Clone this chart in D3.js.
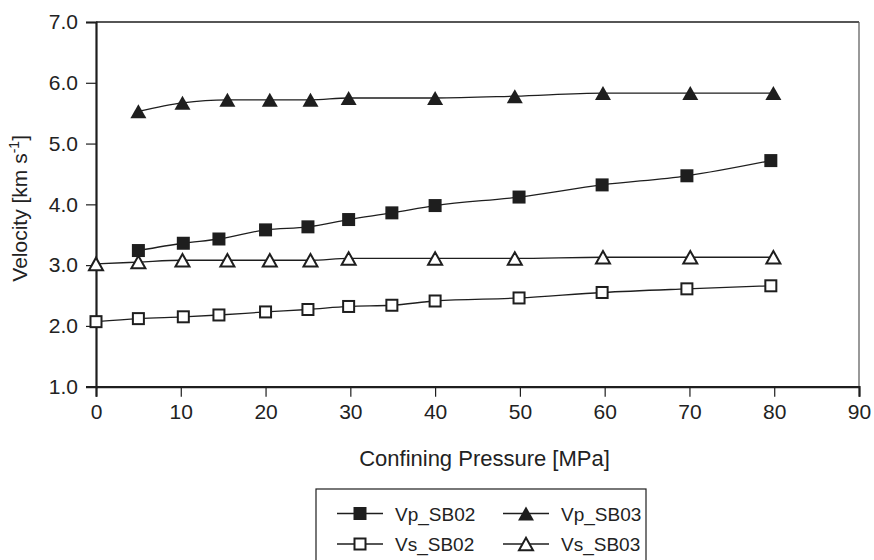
<!DOCTYPE html>
<html><head><meta charset="utf-8">
<script src="https://cdn.jsdelivr.net/npm/d3@7"></script>
<style>
body{margin:0;background:#fff;}
text{font-family:"Liberation Sans",Arial,sans-serif;fill:#222;}
</style></head>
<body><svg id="c" width="874" height="560"></svg>
<script>
// Data
const xTicks = [0,10,20,30,40,50,60,70,80,90];
const yTicks = [1.0,2.0,3.0,4.0,5.0,6.0,7.0];

const vpSB02P = [5,10.3,14.5,20,25,29.8,34.9,40,49.9,59.7,69.7,79.6];
const vpSB02V = [3.24,3.36,3.43,3.58,3.63,3.75,3.86,3.98,4.12,4.32,4.47,4.72];

const vsSB02P = [0,5,10.3,14.5,20,25,29.8,34.9,40,49.9,59.7,69.7,79.6];
const vsSB02V = [2.07,2.12,2.15,2.18,2.23,2.27,2.32,2.34,2.41,2.46,2.55,2.61,2.66];

const vpSB03P = [5,10.2,15.5,20.5,25.3,29.8,40,49.4,59.8,70.1,79.9];
const vpSB03V = [5.53,5.67,5.72,5.72,5.72,5.75,5.75,5.78,5.83,5.83,5.83];

const vsSB03P = [0,5,10.2,15.5,20.5,25.3,29.8,40,49.4,59.8,70.1,79.9];
const vsSB03V = [3.02,3.05,3.08,3.08,3.08,3.08,3.11,3.11,3.11,3.13,3.13,3.13];

const seriesNames = ["Vp_SB02","Vs_SB02","Vp_SB03","Vs_SB03"];

const svg = d3.select("#c");
const L=96, R=859, T=22, B=386.7;
const x = d3.scaleLinear().domain([0,90]).range([L,R]);
const y = d3.scaleLinear().domain([1,7]).range([B,T]);

const ink = "#1e1e1e";
const FONT = "'Liberation Sans',Arial,sans-serif";

// frame top/right
svg.append("line").attr("x1",L).attr("x2",R).attr("y1",T).attr("y2",T).attr("stroke",ink).attr("stroke-width",1.5);
svg.append("line").attr("x1",R).attr("x2",R).attr("y1",T).attr("y2",B).attr("stroke","#555").attr("stroke-width",1.2);

// axes
const xAxis = svg.append("g").attr("transform",`translate(0,${B})`)
  .call(d3.axisBottom(x).tickValues(xTicks).tickSize(10).tickPadding(7).tickFormat(d3.format("d")));
const yAxis = svg.append("g").attr("transform",`translate(${L},0)`)
  .call(d3.axisLeft(y).tickValues(yTicks).tickSize(10).tickPadding(8).tickFormat(d3.format(".1f")));
[xAxis,yAxis].forEach(g=>{
  g.attr("font-family",FONT).attr("font-size",21);
  g.select(".domain").attr("stroke",ink).attr("stroke-width",2.2);
  g.selectAll(".tick line").attr("stroke",ink).attr("stroke-width",1.2);
  g.selectAll(".tick text").attr("fill",ink);
});

// titles
svg.append("text").attr("x",(L+R)/2+7).attr("y",466).attr("text-anchor","middle").style("font-size","22px").text("Confining Pressure [MPa]");
const yt = svg.append("text").attr("transform",`translate(27,${(T+B)/2+4}) rotate(-90)`).attr("text-anchor","middle").style("font-size","21px");
yt.append("tspan").text("Velocity [km s");
yt.append("tspan").attr("dy",-8).style("font-size","14px").text("-1");
yt.append("tspan").attr("dy",8).text("]");

// markers
function tri(cx,cy,w,h){return `M${cx-w/2},${cy+h/2}L${cx+w/2},${cy+h/2}L${cx},${cy-h/2}Z`;}
function drawMarker(g,type,cx,cy){
  if(type==="fsq") g.append("rect").attr("x",cx-6.5).attr("y",cy-6.5).attr("width",13).attr("height",13).attr("fill",ink);
  else if(type==="osq") g.append("rect").attr("x",cx-5.5).attr("y",cy-5.5).attr("width",11).attr("height",11).attr("fill","#fff").attr("stroke",ink).attr("stroke-width",2);
  else if(type==="ftri") g.append("path").attr("d",tri(cx,cy,16,14)).attr("fill",ink);
  else g.append("path").attr("d",tri(cx,cy,14,12.5)).attr("fill","#fff").attr("stroke",ink).attr("stroke-width",2).attr("stroke-linejoin","miter");
}

const series = [
  {p:vpSB02P,v:vpSB02V,m:"fsq"},
  {p:vsSB02P,v:vsSB02V,m:"osq"},
  {p:vpSB03P,v:vpSB03V,m:"ftri"},
  {p:vsSB03P,v:vsSB03V,m:"otri"}
];
const line = d3.line().x(d=>x(d[0])).y(d=>y(d[1])).curve(d3.curveMonotoneX);
series.forEach(s=>{
  const pts = s.p.map((p,i)=>[p,s.v[i]]);
  svg.append("path").attr("d",line(pts)).attr("fill","none").attr("stroke",ink).attr("stroke-width",1.3);
  const g = svg.append("g");
  pts.forEach(d=>drawMarker(g,s.m,x(d[0]),y(d[1])));
});

// legend
const lg = svg.append("g");
lg.append("rect").attr("x",316).attr("y",489).attr("width",330).attr("height",90).attr("fill","#fff").attr("stroke",ink).attr("stroke-width",1.2);
const legPos = [[337,513.5],[337,544],[503,513.5],[503,544]];
series.forEach((s,i)=>{
  const [lx,ly]=legPos[i];
  lg.append("line").attr("x1",lx).attr("x2",lx+46).attr("y1",ly).attr("y2",ly).attr("stroke",ink).attr("stroke-width",1.3);
  drawMarker(lg,s.m,lx+23,ly);
  lg.append("text").attr("x",lx+58).attr("y",ly+7).style("font-size","19px").text(seriesNames[i]);
});
</script></body></html>
